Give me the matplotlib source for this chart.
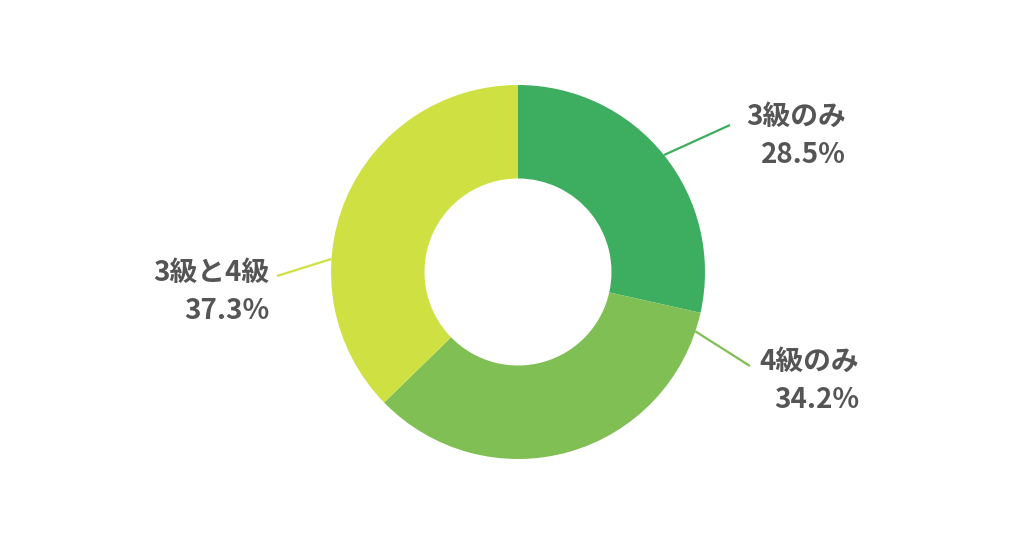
import numpy as np
import matplotlib
matplotlib.use('Agg')
import matplotlib.pyplot as plt

plt.rcParams['font.family'] = ['Noto Sans CJK JP', 'DejaVu Sans']

# data
labels = ['3級のみ', '4級のみ', '3級と4級']
values = [28.5, 34.2, 37.3]
colors = ['#3dad5f', '#80bf53', '#cfe142']

# label placement (pixel coords, y from top) - leader start angle, leader end, text right edge/top line
line_angles = [38.7, -18.5, 176.0]
line_ends = [(730, 125), (750, 366), (277, 276)]
text_pos = [(846, 117), (859, 362), (269, 273)]

W, H = 1024, 536
cx, cy, r = 518, 272, 187

fig = plt.figure(figsize=(W / 100, H / 100), dpi=100)
ax = fig.add_axes([0, 0, 1, 1])

ax.pie(values, colors=colors, startangle=90, counterclock=False,
       center=(cx, H - cy), radius=r,
       wedgeprops=dict(width=r * 0.5, linewidth=0))

# pie resets the limits, so set them afterwards
ax.set_xlim(0, W)
ax.set_ylim(0, H)
ax.set_aspect('equal')
ax.axis('off')

for lab, val, ang, end, tp, col in zip(labels, values, line_angles, line_ends, text_pos, colors):
    a = np.deg2rad(ang)
    x0 = cx + r * np.cos(a)
    y0 = H - cy + r * np.sin(a)
    ax.plot([x0, end[0]], [y0, H - end[1]], color=col, lw=1.6, solid_capstyle='butt')
    ax.text(tp[0], H - tp[1], lab, ha='right', va='center', fontsize=20,
            fontweight='bold', color='#555555')
    ax.text(tp[0], H - tp[1] - 38, f'{val}%', ha='right', va='center', fontsize=20,
            fontweight='bold', color='#555555')

fig.savefig('out.png', dpi=100)
